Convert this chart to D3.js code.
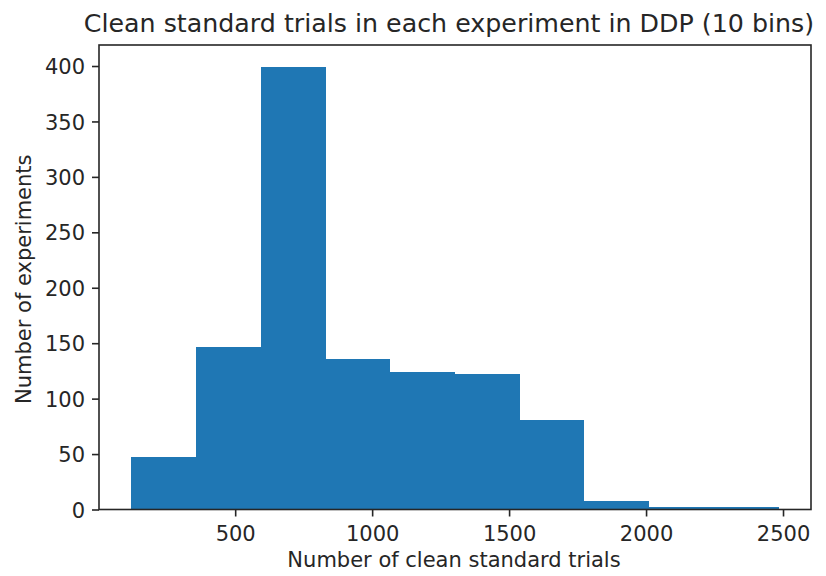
<!DOCTYPE html>
<html>
<head>
<meta charset="utf-8">
<script src="https://cdn.jsdelivr.net/npm/d3@7"></script>
<style>
  body { margin: 0; background: white; }
  text { font-family: "DejaVu Sans", sans-serif; fill: #262626; }
</style>
</head>
<body>
<div id="myVis"></div>
<script>

// histogram data
const binStart = 121
const binEnd = 2484
const counts = [47, 147, 399, 136, 124, 122, 81, 8, 2, 2]
const xTicks = [500, 1000, 1500, 2000, 2500]
const yTicks = [0, 50, 100, 150, 200, 250, 300, 350, 400]

const titleText = "Clean standard trials in each experiment in DDP (10 bins)"
const xLabel = "Number of clean standard trials"
const yLabel = "Number of experiments"

var W = 826, H = 576
var axL = 99, axR = 811, axT = 45, axB = 509.5

const bins = counts.map((c, i) => {
	let w = (binEnd - binStart) / counts.length
	return {x0: binStart + i * w, x1: binStart + (i + 1) * w, count: c}
})

const svg = d3.select("#myVis")
	.append("svg")
		.attr("width", W)
		.attr("height", H)
		.style("background-color", "white")

// matplotlib style margins: 5% on x, 5% on top for y
const pad = (binEnd - binStart) * 0.05
const x = d3.scaleLinear().domain([binStart - pad, binEnd + pad]).range([axL, axR])
const y = d3.scaleLinear().domain([0, d3.max(counts) * 1.05]).range([axB, axT])

svg.append("g")
	.selectAll("rect")
	.data(bins)
	.enter()
	.append("rect")
		.attr("x", (d) => x(d.x0))
		.attr("y", (d) => y(d.count))
		.attr("width", (d) => x(d.x1) - x(d.x0))
		.attr("height", (d) => y(0) - y(d.count))
		.style("fill", "#1f77b4")
		.attr("shape-rendering", "crispEdges")

// axes
const xAxis = svg.append("g")
	.attr("transform", "translate(0," + axB + ")")
	.call(d3.axisBottom(x).tickValues(xTicks).tickSize(7).tickPadding(7).tickFormat(d3.format("d")))

const yAxis = svg.append("g")
	.attr("transform", "translate(" + axL + ",0)")
	.call(d3.axisLeft(y).tickValues(yTicks).tickSize(7).tickPadding(7).tickFormat(d3.format("d")))

for (const ax of [xAxis, yAxis]) {
	ax.select(".domain").remove()
	ax.selectAll(".tick line").attr("stroke", "#262626").attr("stroke-width", 1.6)
	ax.selectAll(".tick text")
		.style("font-family", "DejaVu Sans")
		.style("font-size", "21px")
		.attr("fill", "#262626")
}
xAxis.selectAll(".tick text").attr("dy", null).attr("y", 31)
yAxis.selectAll(".tick text").attr("dy", "0.36em")

// frame
svg.append("rect")
	.attr("x", axL)
	.attr("y", axT)
	.attr("width", axR - axL)
	.attr("height", axB - axT)
	.attr("fill", "none")
	.attr("stroke", "#262626")
	.attr("stroke-width", 1.6)

svg.append("text")
	.attr("x", 449)
	.attr("y", 32)
	.attr("text-anchor", "middle")
	.style("font-size", "25.3px")
	.text(titleText)

svg.append("text")
	.attr("x", (axL + axR) / 2 - 1)
	.attr("y", 567)
	.attr("text-anchor", "middle")
	.style("font-size", "21px")
	.text(xLabel)

svg.append("text")
	.attr("transform", "translate(31," + ((axT + axB) / 2 + 2) + ") rotate(-90)")
	.attr("text-anchor", "middle")
	.style("font-size", "21px")
	.text(yLabel)

</script>
</body>
</html>
